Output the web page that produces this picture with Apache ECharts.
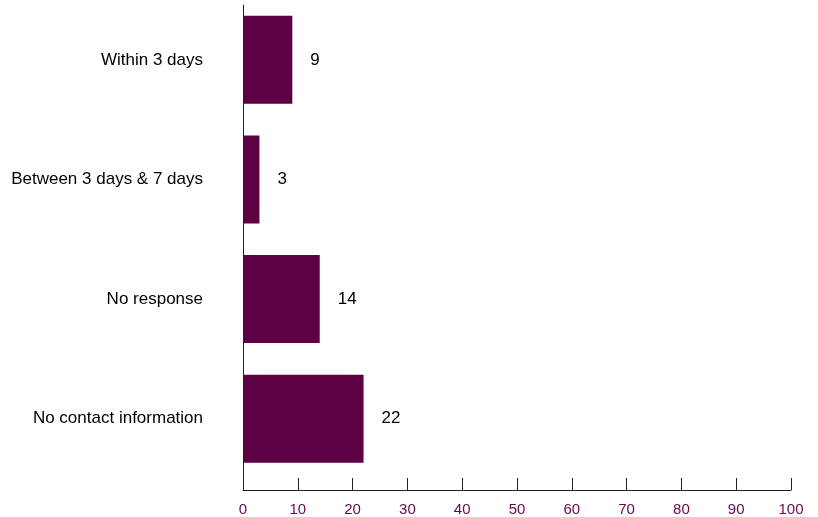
<!DOCTYPE html>
<html>
<head>
<meta charset="utf-8">
<script src="https://cdn.jsdelivr.net/npm/echarts@6/dist/echarts.min.js"></script>
<style>
  html, body { margin: 0; padding: 0; background: #fff; }
  #chart { width: 818px; height: 517px; }
</style>
</head>
<body>
<div id="chart"></div>
<script>
const categories = ['Within 3 days', 'Between 3 days & 7 days', 'No response', 'No contact information'];
const values = [9, 3, 14, 22];
const xTicks = [0, 10, 20, 30, 40, 50, 60, 70, 80, 90, 100];

const barColor = '#5c0043';
const chart = echarts.init(document.getElementById('chart'), null, {renderer: 'canvas'});

const option = {
  animation: false,
  textStyle: {fontFamily: 'Liberation Sans, Arial, sans-serif'},
  grid: [
    // bars
    {left: 243, right: 27, top: -7, bottom: 38.5, containLabel: false},
    // axis frame
    {left: 243, right: 27, top: 5, bottom: 27, containLabel: false}
  ],
  xAxis: [
    {
      gridIndex: 0, type: 'value', min: xTicks[0], max: xTicks[xTicks.length - 1],
      show: false
    },
    {
      gridIndex: 1, type: 'value', min: xTicks[0], max: xTicks[xTicks.length - 1], interval: 10,
      axisLine: {show: true, lineStyle: {color: '#222', width: 1}},
      axisTick: {show: true, inside: true, length: 12, lineStyle: {color: '#222'}},
      axisLabel: {color: '#660850', fontSize: 15, margin: 12},
      splitLine: {show: false}
    }
  ],
  yAxis: [
    {
      gridIndex: 0, type: 'category', data: categories, inverse: true,
      axisLine: {show: false}, axisTick: {show: false},
      axisLabel: {color: '#000', fontSize: 17, margin: 40}
    },
    {
      gridIndex: 1, type: 'value', min: 0, max: 1,
      axisLine: {show: true, lineStyle: {color: '#222', width: 1}},
      axisTick: {show: false}, axisLabel: {show: false}, splitLine: {show: false}
    }
  ],
  series: [{
    type: 'bar',
    xAxisIndex: 0,
    yAxisIndex: 0,
    data: values,
    barWidth: 88,
    itemStyle: {color: barColor},
    label: {show: true, position: 'right', distance: 18, color: '#000', fontSize: 17}
  }]
};

chart.setOption(option);
</script>
</body>
</html>
